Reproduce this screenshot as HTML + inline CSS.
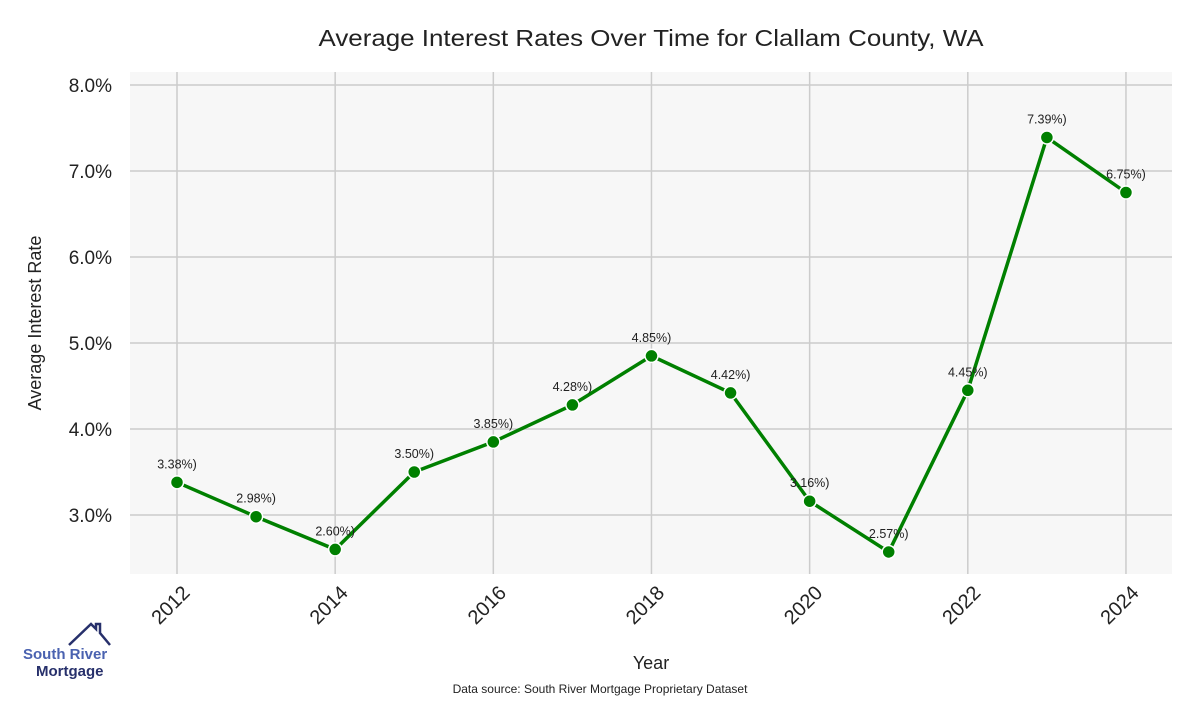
<!DOCTYPE html>
<html><head><meta charset="utf-8"><style>
body{margin:0;background:#fff;font-family:"Liberation Sans",sans-serif;}
svg text{font-family:"Liberation Sans",sans-serif;}
</style></head><body>
<svg id="c" width="1200" height="700" viewBox="0 0 1200 700">
<rect x="130" y="72" width="1042" height="502" fill="#f7f7f7"/>
<g id="grid"></g>
<g id="marks"></g>
<text x="651" y="46" text-anchor="middle" font-size="23" fill="#222" textLength="665" lengthAdjust="spacingAndGlyphs">Average Interest Rates Over Time for Clallam County, WA</text>
<text x="651" y="669" text-anchor="middle" font-size="18" fill="#222">Year</text>
<text transform="translate(41,323) rotate(-90)" text-anchor="middle" font-size="18" fill="#222">Average Interest Rate</text>
<text x="600" y="693" text-anchor="middle" font-size="12" fill="#222">Data source: South River Mortgage Proprietary Dataset</text>
<g>
<polyline points="69,645 91,624 96,629 96,624 100,624 100,633 110,645" fill="none" stroke="#27306b" stroke-width="2.5"/>
<text x="23" y="659" font-size="15" font-weight="bold" fill="#4a62b0">South River</text>
<text x="36" y="676" font-size="15" font-weight="bold" fill="#27306b">Mortgage</text>
</g>
</svg>
<script>
const years=[2012,2013,2014,2015,2016,2017,2018,2019,2020,2021,2022,2023,2024];
const rates=[3.38,2.98,2.60,3.50,3.85,4.28,4.85,4.42,3.16,2.57,4.45,7.39,6.75];
const yTicks=[3,4,5,6,7,8];
const xTicks=[2012,2014,2016,2018,2020,2022,2024];
const NS="http://www.w3.org/2000/svg";
const xs=v=>177+(v-2012)*79.08;
const ys=v=>515-(v-3)*86;
const grid=document.getElementById('grid'),marks=document.getElementById('marks');
function mk(t,a,p){const e=document.createElementNS(NS,t);for(const k in a)e.setAttribute(k,a[k]);p.appendChild(e);return e;}
yTicks.forEach(t=>{
 const l=mk('line',{x1:130,x2:1172,y1:ys(t),y2:ys(t),stroke:'#cccccc','stroke-width':1.5},grid);
 
 
 const tx=mk('text',{x:112,y:ys(t)+7,'text-anchor':'end','font-size':19,fill:'#222'},grid);
 tx.textContent=t.toFixed(1)+'%';
 
 
});
xTicks.forEach(t=>{
 const l=mk('line',{x1:xs(t),x2:xs(t),y1:72,y2:574,stroke:'#cccccc','stroke-width':1.5},grid);
 
 
 const tx=mk('text',{transform:`translate(${xs(t)+14},${594}) rotate(-45)`,'text-anchor':'end','font-size':20,fill:'#222'},grid);
 tx.textContent=t;
 
 
});
const pl=mk('polyline',{points:years.map((y,i)=>xs(y)+','+ys(rates[i])).join(' '),fill:'none',stroke:'#008000','stroke-width':3.5},marks);


years.forEach((y,i)=>{
 const c=mk('circle',{cx:xs(y),cy:ys(rates[i]),r:6.5,fill:'#008000',stroke:'#fff','stroke-width':1.5},marks);
 
 
 const t=mk('text',{x:xs(y),y:ys(rates[i])-14,'text-anchor':'middle','font-size':12.5,fill:'#222'},marks);
 t.textContent=rates[i].toFixed(2)+'%)';
 
 
});
</script>
</body></html>
